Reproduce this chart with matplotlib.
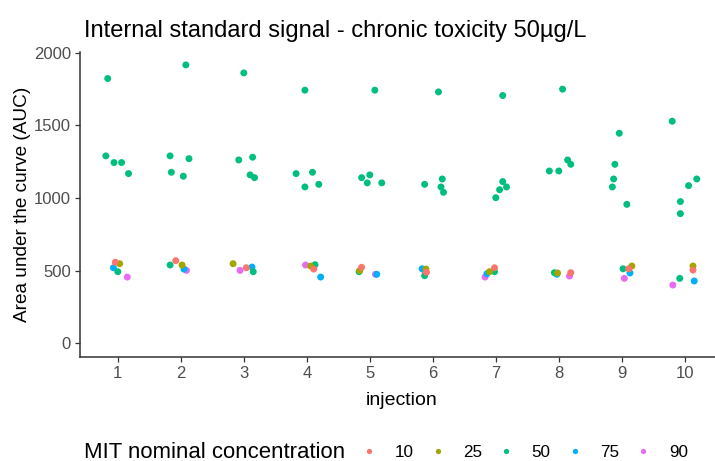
import numpy as np
import matplotlib
matplotlib.use("Agg")
import matplotlib.pyplot as plt
from matplotlib.lines import Line2D

plt.rcParams["font.family"] = ["Liberation Sans", "DejaVu Sans"]

injections = np.arange(1, 11)
concentrations = ["10", "25", "50", "75", "90"]
colors = ["#F8766D", "#A3A500", "#00BF7D", "#00B0F6", "#E76BF3"]

# one value per injection for 10, 25, 75, 90
auc_10 = [557, 568, 519, 510, 522, 488, 519, 485, 512, 503]
jit_10 = [-0.04, -0.08, 0.04, 0.11, -0.13, -0.10, -0.02, 0.19, 0.11, 0.13]
auc_25 = [547, 538, 547, 531, 499, 510, 492, 483, 531, 531]
jit_25 = [0.03, 0.02, -0.17, 0.06, -0.16, -0.11, -0.10, -0.02, 0.16, 0.13]
auc_75 = [519, 510, 524, 455, 474, 512, 478, 474, 483, 428]
jit_75 = [-0.07, 0.05, 0.13, 0.22, 0.11, -0.17, -0.14, -0.03, 0.13, 0.15]
auc_90 = [455, 501, 501, 538, 474, 490, 455, 462, 446, 400]
jit_90 = [0.15, 0.09, -0.06, -0.02, 0.09, -0.12, -0.17, 0.17, 0.04, -0.19]

# six values per injection for 50
auc_50 = [
    [1823, 1290, 1244, 1244, 1168, 492],
    [1917, 1290, 1271, 1177, 1150, 538],
    [1862, 1262, 1281, 1159, 1140, 492],
    [1743, 1168, 1177, 1076, 1094, 540],
    [1743, 1140, 1159, 1104, 1104, 492],
    [1731, 1094, 1131, 1076, 1039, 464],
    [1706, 1002, 1113, 1057, 1076, 492],
    [1750, 1186, 1186, 1262, 1232, 485],
    [1446, 1232, 1131, 1076, 956, 512],
    [1529, 975, 892, 1085, 1131, 446],
]
jit_50 = [
    [-0.16, -0.19, -0.06, 0.06, 0.17, 0.00],
    [0.08, -0.17, 0.13, -0.15, 0.04, -0.17],
    [0.00, -0.08, 0.14, 0.10, 0.17, 0.15],
    [-0.03, -0.17, 0.09, -0.03, 0.19, 0.13],
    [0.08, -0.13, 0.00, -0.04, 0.19, -0.17],
    [0.09, -0.13, 0.15, 0.13, 0.17, -0.13],
    [0.11, 0.00, 0.11, 0.06, 0.17, -0.02],
    [0.06, -0.15, 0.00, 0.14, 0.19, -0.07],
    [-0.04, -0.11, -0.13, -0.15, 0.08, 0.02],
    [-0.20, -0.07, -0.07, 0.06, 0.19, -0.08],
]

series = {
    "10": (injections, auc_10, jit_10),
    "25": (injections, auc_25, jit_25),
    "50": (np.repeat(injections, 6), np.ravel(auc_50), np.ravel(jit_50)),
    "75": (injections, auc_75, jit_75),
    "90": (injections, auc_90, jit_90),
}

fig = plt.figure(figsize=(7.15, 4.61), dpi=100)
ax = fig.add_axes([80 / 715, 104 / 461, 642.6 / 715, 305 / 461])

for conc in ["90", "75", "50", "25", "10"]:
    x, y, j = series[conc]
    c = colors[concentrations.index(conc)]
    ax.scatter(np.asarray(x) + np.asarray(j), y, s=25, color=c,
               edgecolors="none", zorder=3, clip_on=False)

ax.set_xlim(0.4, 10.6)
ax.set_ylim(-96, 2006)
ax.set_xticks(injections)
ax.set_yticks([0, 500, 1000, 1500, 2000])
for s in ["top", "right"]:
    ax.spines[s].set_visible(False)
for s in ["left", "bottom"]:
    ax.spines[s].set_color("#333333")
    ax.spines[s].set_linewidth(1.1)
ax.tick_params(axis="both", colors="#333333", labelcolor="#4D4D4D",
               labelsize=12, length=3.5, width=0.9, pad=3)

ax.set_xlabel("injection", fontsize=14, labelpad=8)
ax.set_ylabel("Area under the curve (AUC)", fontsize=13.7, labelpad=2)

fig.text(84 / 715, 1 - 31 / 461, "Internal standard signal - chronic toxicity 50\u00b5g/L",
         fontsize=17, ha="left", va="center")

fig.text(84 / 715, 1 - 452 / 461, "MIT nominal concentration", fontsize=15.9,
         ha="left", va="center")
handles = [Line2D([], [], ls="none", marker="o", markersize=3.8,
                  markerfacecolor=c, markeredgecolor="none") for c in colors]
fig.legend(handles, concentrations, ncol=5, frameon=False, fontsize=12.3,
           loc="center left", bbox_to_anchor=(360.5 / 715, 1 - 452 / 461),
           handlelength=1.0, handletextpad=1.0, columnspacing=0.9,
           borderaxespad=0, borderpad=0)

fig.savefig("out.png", dpi=100)
